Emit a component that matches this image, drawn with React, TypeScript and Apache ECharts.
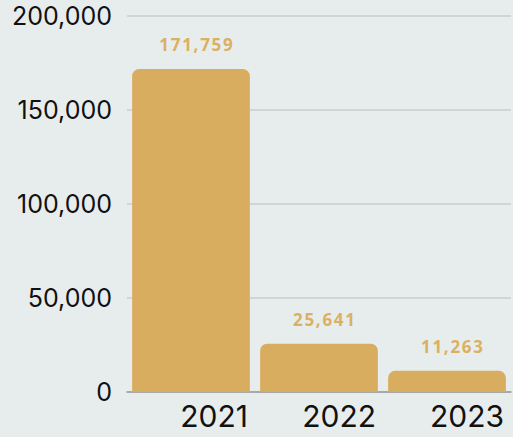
import React, { useEffect, useRef } from "react";
import * as echarts from "echarts";

const categories = ["2021", "2022", "2023"];
const values = [171759, 25641, 11263];
const yTicks = [0, 50000, 100000, 150000, 200000];

export default function App() {
  const ref = useRef<HTMLDivElement>(null);
  useEffect(() => {
    document.body.style.margin = "0";
    const chart = echarts.init(ref.current!, null, { renderer: "svg" });
    chart.setOption({
      animation: false,
      backgroundColor: "#e7eded",
      grid: { left: 127, right: 2, top: 16, bottom: 45 },
      xAxis: {
        type: "category",
        data: categories,
        axisTick: { show: false },
        axisLine: { lineStyle: { color: "#9a9a9a", width: 1.5 } },
        axisLabel: {
          margin: 9,
          formatter: "{a|{value}}",
          rich: {
            a: {
              width: 114,
              align: "right",
              fontSize: 30,
              color: "#111",
              fontFamily: "Inter",
            },
          },
        },
      },
      yAxis: {
        type: "value",
        min: yTicks[0],
        max: yTicks[yTicks.length - 1],
        interval: 50000,
        axisLabel: {
          margin: 15,
          fontSize: 25,
          color: "#111",
          fontFamily: "Inter",
          formatter: (v: number) => v.toLocaleString("en-US"),
        },
        splitLine: { lineStyle: { color: "#c9cdcd", width: 1.5 } },
        axisLine: { show: false },
        axisTick: { show: false },
      },
      series: [
        {
          type: "bar",
          data: values,
          barCategoryGap: "8%",
          itemStyle: { color: "#d9ad5f", borderRadius: [7, 7, 0, 0] },
          label: {
            show: true,
            position: "top",
            distance: 16,
            offset: [5, 0],
            color: "#dcb062",
            fontWeight: "bold",
            fontSize: 17,
            fontFamily: "Open Sans",
            formatter: (p: any) => p.value.toLocaleString("en-US").split("").join("\u200A"),
          },
        },
      ],
    });
    return () => chart.dispose();
  }, []);
  return <div ref={ref} style={{ position: "absolute", left: 0, top: 0, width: 513, height: 437 }} />;
}
